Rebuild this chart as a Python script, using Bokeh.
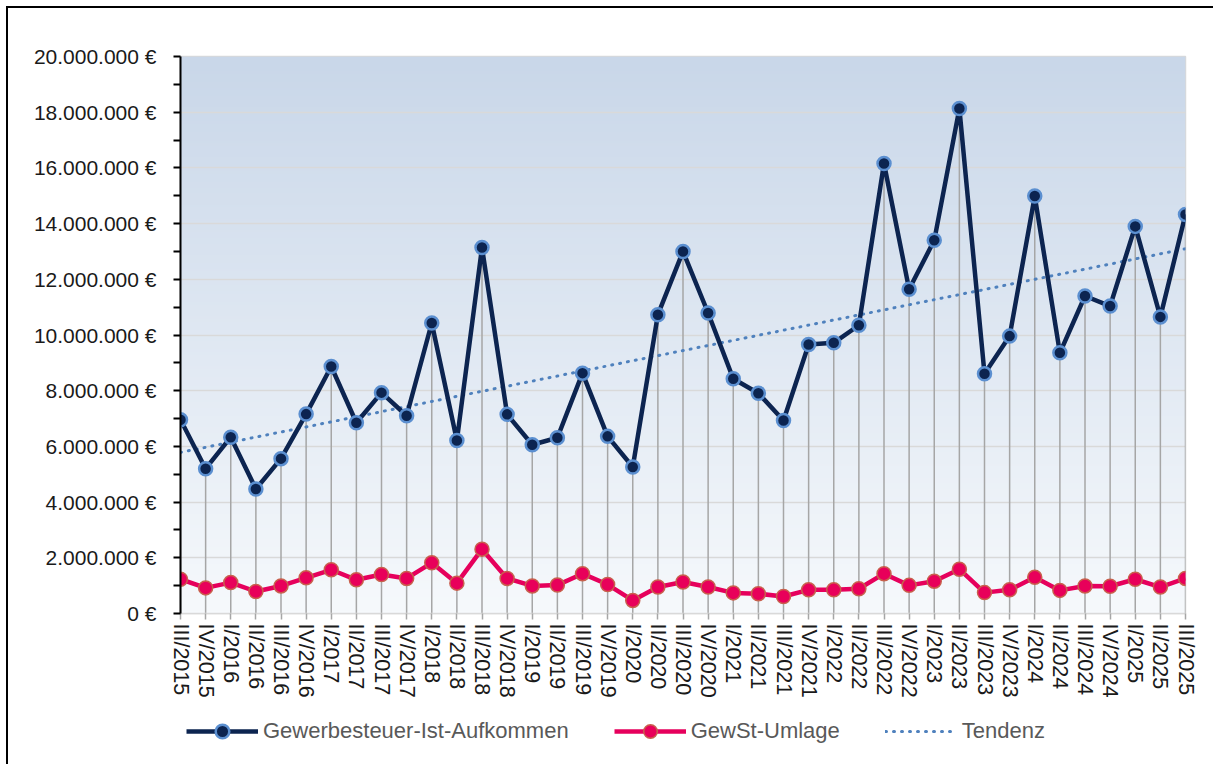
import numpy as np
from bokeh.plotting import figure
from bokeh.layouts import column
from bokeh.models import FixedTicker, Legend, LegendItem, Range1d, ColumnDataSource
from bokeh.embed import file_html
from bokeh.resources import INLINE

# ---------------- data ----------------
quarters = [
    "III/2015", "IV/2015",
    "I/2016", "II/2016", "III/2016", "IV/2016",
    "I/2017", "II/2017", "III/2017", "IV/2017",
    "I/2018", "II/2018", "III/2018", "IV/2018",
    "I/2019", "II/2019", "III/2019", "IV/2019",
    "I/2020", "II/2020", "III/2020", "IV/2020",
    "I/2021", "II/2021", "III/2021", "IV/2021",
    "I/2022", "II/2022", "III/2022", "IV/2022",
    "I/2023", "II/2023", "III/2023", "IV/2023",
    "I/2024", "II/2024", "III/2024", "IV/2024",
    "I/2025", "II/2025", "III/2025",
]

gewerbesteuer = [
    6960000, 5200000,
    6330000, 4470000, 5560000, 7160000,
    8870000, 6850000, 7930000, 7100000,
    10430000, 6210000, 13140000, 7150000,
    6060000, 6310000, 8630000, 6360000,
    5260000, 10730000, 13000000, 10790000,
    8430000, 7910000, 6930000, 9660000,
    9720000, 10350000, 16160000, 11640000,
    13400000, 18130000, 8610000, 9960000,
    14990000, 9360000, 11400000, 11040000,
    13900000, 10650000, 14330000,
]

umlage = [
    1230000, 920000,
    1110000, 790000, 990000, 1280000,
    1570000, 1210000, 1400000, 1260000,
    1820000, 1090000, 2310000, 1260000,
    990000, 1020000, 1430000, 1040000,
    470000, 950000, 1130000, 950000,
    740000, 710000, 610000, 850000,
    850000, 890000, 1430000, 1010000,
    1160000, 1590000, 750000, 850000,
    1300000, 830000, 990000, 980000,
    1230000, 950000, 1260000,
]

y_ticks = [0, 2000000, 4000000, 6000000, 8000000, 10000000,
           12000000, 14000000, 16000000, 18000000, 20000000]
y_tick_labels = ["0 €", "2.000.000 €", "4.000.000 €", "6.000.000 €", "8.000.000 €",
                 "10.000.000 €", "12.000.000 €", "14.000.000 €", "16.000.000 €",
                 "18.000.000 €", "20.000.000 €"]

series_names = ["Gewerbesteuer-Ist-Aufkommen", "GewSt-Umlage", "Tendenz"]

# ---------------- derived ----------------
x = np.arange(len(quarters))
slope, intercept = np.polyfit(x, np.array(gewerbesteuer, dtype=float), 1)
trend = intercept + slope * x

src = ColumnDataSource(dict(x=x, g=gewerbesteuer, u=umlage, t=trend,
                            zero=[0] * len(x)))

FONT = "'Liberation Sans', Arial, sans-serif"

# styles
G_LINE = dict(line_color="#0c2450", line_width=4.5)
G_PTS = dict(size=13, fill_color="#0c2450", line_color="#5b8fd0", line_width=2.5)
U_LINE = dict(line_color="#e6005c", line_width=4.5)
U_PTS = dict(size=14, fill_color="#e8005a", line_color="#c8604d", line_width=1.5)
T_LINE = dict(line_color="#4f81bd", line_width=3, line_dash="1 7", line_cap="round")

MAIN_H = 700
p = figure(width=1205, height=MAIN_H, output_backend="svg", toolbar_location=None,
           x_range=Range1d(0, len(quarters) - 1), y_range=Range1d(y_ticks[0], y_ticks[-1]),
           min_border_left=172, min_border_top=48, min_border_right=28,
           min_border_bottom=MAIN_H - 48 - 557)

p.background_fill_color = "#ffffff"
p.border_fill_color = "#ffffff"
p.outline_line_color = "#d9d9d9"
p.outline_line_width = 1.5

# gradient plot-area background
n = 200
top = np.array([201, 215, 233], dtype=float)
bot = np.array([246, 249, 252], dtype=float)
f = np.linspace(0, 1, n)[:, None]
cols = (bot * (1 - f) + top * f).astype(np.uint32)
img = np.empty((n, 1), dtype=np.uint32)
view = img.view(dtype=np.uint8).reshape((n, 1, 4))
view[:, 0, 0] = cols[:, 0]
view[:, 0, 1] = cols[:, 1]
view[:, 0, 2] = cols[:, 2]
view[:, 0, 3] = 255
p.image_rgba(image=[img], x=0, y=y_ticks[0], dw=len(quarters) - 1,
             dh=y_ticks[-1] - y_ticks[0], level="image")

# grid
p.xgrid.grid_line_color = None
p.ygrid.grid_line_color = "#d9d9d9"
p.ygrid.grid_line_width = 1.5

# drop lines
p.segment(x0="x", y0="zero", x1="x", y1="g", source=src,
          line_color="#a6a6a6", line_width=1.5)

p.line("x", "t", source=src, **T_LINE)
p.line("x", "g", source=src, **G_LINE)
p.scatter("x", "g", source=src, **G_PTS)
p.line("x", "u", source=src, **U_LINE)
p.scatter("x", "u", source=src, **U_PTS)

# axes
yax = p.yaxis[0]
mids = list((np.array(y_ticks[:-1]) + np.array(y_ticks[1:])) / 2)
yax.ticker = FixedTicker(ticks=y_ticks, minor_ticks=mids)
yax.major_label_overrides = {t: l for t, l in zip(y_ticks, y_tick_labels)}
yax.axis_line_color = "#000000"
yax.axis_line_width = 2
yax.major_tick_line_color = "#000000"
yax.major_tick_line_width = 2
yax.minor_tick_line_color = "#000000"
yax.minor_tick_line_width = 2
yax.major_tick_in = 0
yax.major_tick_out = 7
yax.minor_tick_in = 0
yax.minor_tick_out = 7
yax.major_label_standoff = 17
yax.major_label_text_font = FONT
yax.major_label_text_font_size = "21px"
yax.major_label_text_color = "#1a1a1a"

xax = p.xaxis[0]
xax.ticker = FixedTicker(ticks=list(x))
xax.major_label_overrides = {int(i): q for i, q in zip(x, quarters)}
xax.major_label_orientation = "vertical"
xax.axis_line_color = "#d9d9d9"
xax.axis_line_width = 1.5
xax.major_tick_line_color = "#a6a6a6"
xax.major_tick_line_width = 1.5
xax.major_tick_in = 0
xax.major_tick_out = 6
xax.minor_tick_line_color = None
xax.major_label_standoff = 4
xax.major_label_text_font = FONT
xax.major_label_text_font_size = "21.5px"
xax.major_label_text_color = "#1a1a1a"

# ---------------- legend strip ----------------
LEG_H = 756 - MAIN_H
q = figure(width=1205, height=LEG_H, output_backend="svg", toolbar_location=None,
           x_axis_type=None, y_axis_type=None,
           x_range=Range1d(-10, -9), y_range=Range1d(-10, -9),
           min_border=0)
q.grid.visible = False
q.outline_line_color = None
q.background_fill_color = "#ffffff"
q.border_fill_color = "#ffffff"

lg = q.line("x", "g", source=src, **G_LINE)
sg = q.scatter("x", "g", source=src, **G_PTS)
lu = q.line("x", "u", source=src, **U_LINE)
su = q.scatter("x", "u", source=src, **U_PTS)
lt = q.line("x", "t", source=src, **T_LINE)

legend = Legend(items=[
    LegendItem(label=series_names[0], renderers=[lg, sg]),
    LegendItem(label=series_names[1], renderers=[lu, su]),
    LegendItem(label=series_names[2], renderers=[lt]),
], orientation="horizontal", location=(6, 16))
legend.glyph_width = 72
legend.glyph_height = 34
legend.label_standoff = 5
legend.spacing = 45
legend.padding = 0
legend.margin = 0
legend.background_fill_alpha = 0
legend.border_line_alpha = 0
legend.label_text_font = FONT
legend.label_text_font_size = "22px"
legend.label_text_color = "#595959"
q.add_layout(legend)

layout = column(p, q, spacing=0,
                styles={"margin-left": "6px", "margin-top": "6px",
                        "border-left": "2px solid #000", "border-top": "2px solid #000"})

open("out.html", "w").write(file_html(layout, INLINE))
